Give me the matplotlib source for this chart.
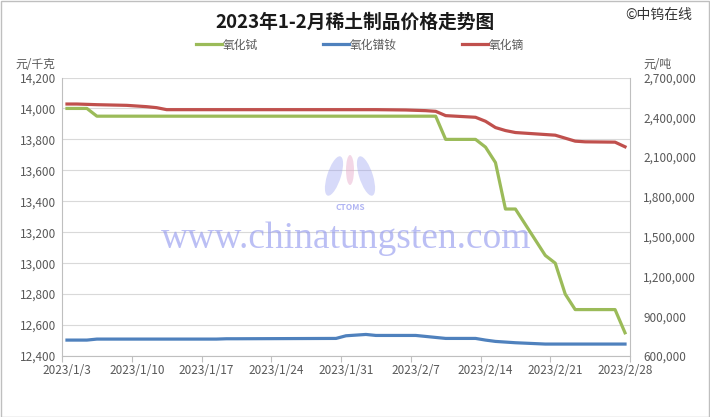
import matplotlib
matplotlib.use('Agg')
import matplotlib.pyplot as plt
import matplotlib.dates as mdates
from matplotlib.ticker import FixedLocator, FuncFormatter
from matplotlib.patches import Rectangle, Ellipse
import pandas as pd

plt.rcParams['font.family'] = ['Noto Sans CJK SC', 'DejaVu Sans']

# ---------------- data ----------------
dates = ['2023-01-03', '2023-01-04', '2023-01-05', '2023-01-06', '2023-01-09', '2023-01-10',
         '2023-01-11', '2023-01-12', '2023-01-13', '2023-01-16', '2023-01-17', '2023-01-18',
         '2023-01-19', '2023-01-20', '2023-01-30', '2023-01-31', '2023-02-01', '2023-02-02',
         '2023-02-03', '2023-02-06', '2023-02-07', '2023-02-08', '2023-02-09', '2023-02-10',
         '2023-02-13', '2023-02-14', '2023-02-15', '2023-02-16', '2023-02-17', '2023-02-20',
         '2023-02-21', '2023-02-22', '2023-02-23', '2023-02-24', '2023-02-27', '2023-02-28']

# 氧化铽 (元/千克, left axis)
terbium = [14000, 14000, 14000, 13950, 13950, 13950,
           13950, 13950, 13950, 13950, 13950, 13950,
           13950, 13950, 13950, 13950, 13950, 13950,
           13950, 13950, 13950, 13950, 13950, 13800,
           13800, 13750, 13650, 13350, 13350, 13050,
           13000, 12800, 12700, 12700, 12700, 12550]

# 氧化镨钕 (元/吨, right axis)
prnd = [720000, 720000, 720000, 727500, 727500, 727500,
        727500, 727500, 727500, 727500, 727500, 727500,
        730000, 730000, 732500, 752500, 757500, 762500,
        755000, 755000, 755000, 747500, 740000, 732500,
        732500, 720000, 710000, 705000, 700000, 690000,
        690000, 690000, 690000, 690000, 690000, 690000]

# 氧化镝 (元/吨, right axis)
dysprosium = [2500000, 2500000, 2497500, 2495000, 2490000, 2485000,
              2480000, 2472500, 2457500, 2457500, 2457500, 2457500,
              2457500, 2457500, 2457500, 2457500, 2457500, 2457500,
              2457500, 2455000, 2452500, 2450000, 2445000, 2412500,
              2400000, 2370000, 2322500, 2300000, 2285000, 2270000,
              2265000, 2242500, 2220000, 2215000, 2212500, 2177500]

series_names = ['氧化铽', '氧化镨钕', '氧化镝']
left_ticks = list(range(12400, 14201, 200))
right_ticks = list(range(600000, 2700001, 300000))
label_dates = ['2023-01-03', '2023-01-10', '2023-01-17', '2023-01-24', '2023-01-31',
               '2023-02-07', '2023-02-14', '2023-02-21', '2023-02-28']

# ---------------- figure ----------------
W, H = 710, 417
fig = plt.figure(figsize=(W / 100, H / 100), dpi=100)
fig.patch.set_facecolor('white')
fig.add_artist(Rectangle((0.5 / W, 0.5 / H), 1 - 1.5 / W, 1 - 1.5 / H, transform=fig.transFigure,
                         fill=False, edgecolor='#BFBFBF', lw=1))

ax = fig.add_axes([62 / W, 61 / H, 568 / W, 278.5 / H])
ax2 = ax.twinx()

x = mdates.date2num(pd.to_datetime(dates))
GREEN, BLUE, RED = '#9BBB59', '#4F81BD', '#C0504D'
TXT = '#595959'
GRID = '#D9D9D9'

l1, = ax.plot(x, terbium, color=GREEN, lw=2.3, zorder=3, solid_joinstyle='round')
l2, = ax2.plot(x, prnd, color=BLUE, lw=2.3, zorder=3, solid_joinstyle='round')
l3, = ax2.plot(x, dysprosium, color=RED, lw=2.3, zorder=3, solid_joinstyle='round')

x0 = mdates.date2num(pd.Timestamp('2023-01-03')) - 0.5
x1 = mdates.date2num(pd.Timestamp('2023-02-28')) + 0.5
ax.set_xlim(x0, x1)

ax.set_ylim(12400, 14200)
ax2.set_ylim(600000, 2700000)
ax.yaxis.set_major_locator(FixedLocator(left_ticks))
ax2.yaxis.set_major_locator(FixedLocator(right_ticks))
ax.yaxis.set_major_formatter(FuncFormatter(lambda v, p: f'{v:,.0f}'))
ax2.yaxis.set_major_formatter(FuncFormatter(lambda v, p: f'{v:,.0f}'))

# x ticks: tick marks between days, labels centered on dates
lab_x = mdates.date2num(pd.to_datetime(label_dates))
ax.xaxis.set_major_locator(FixedLocator([v - 0.5 for v in lab_x[:-1]] + [x1]))
ax.xaxis.set_major_formatter(FuncFormatter(lambda v, p: ''))
ax.xaxis.set_minor_locator(FixedLocator(lab_x))
ax.xaxis.set_minor_formatter(FuncFormatter(
    lambda v, p: (lambda d: f'{d.year}/{d.month}/{d.day}')(mdates.num2date(v))))
ax.tick_params(axis='x', which='major', length=4, color='#BFBFBF', direction='out')
ax.tick_params(axis='x', which='minor', length=0, pad=6, labelsize=8.5, labelcolor=TXT)

ax.tick_params(axis='y', length=0, pad=4, labelsize=8.5, labelcolor=TXT)
ax2.tick_params(axis='y', length=0, pad=9.5, labelsize=8.5, labelcolor=TXT)
for lab in ax2.get_yticklabels():
    lab.set_horizontalalignment('left')

ax.yaxis.grid(True, color=GRID, lw=0.8, zorder=0)
ax.set_axisbelow(True)

for s in ['top', 'right']:
    ax.spines[s].set_visible(False)
for s in ['top', 'left', 'bottom']:
    ax2.spines[s].set_visible(False)
ax.spines['left'].set_color('#BFBFBF')
ax.spines['bottom'].set_color('#BFBFBF')
ax2.spines['right'].set_color('#BFBFBF')

# watermark (logo + site name)
WM = '#8f95ee'
def fig_ellipse(cx, cy, w, h, color, alpha, angle=0):
    fig.add_artist(Ellipse((cx / W, 1 - cy / H), w / W, h / H, angle=angle,
                           transform=fig.transFigure, facecolor=color, edgecolor='none',
                           alpha=alpha, zorder=1))
fig_ellipse(334, 176, 14, 40, WM, 0.35, angle=-10)
fig_ellipse(350, 170, 8, 30, '#e6a7c8', 0.45)
fig_ellipse(366, 176, 14, 40, WM, 0.35, angle=10)
ax.text(0.508, 0.535, 'CTOMS', transform=ax.transAxes, ha='center', va='center',
        fontsize=6, style='italic', fontweight='bold', color=WM, alpha=0.7, zorder=1)
ax.text(0.5, 0.42, 'www.chinatungsten.com', transform=ax.transAxes, ha='center', va='center',
        fontsize=27, family=['Liberation Serif', 'DejaVu Serif'], color=WM, alpha=0.6, zorder=1)

# titles and labels
fig.text(355 / W, 1 - 22 / H, '2023年1-2月稀土制品价格走势图', ha='center', va='center',
         fontsize=13.5, fontweight='bold', color='#1a1a1a')
fig.text(692 / W, 1 - 15 / H, '©中钨在线', ha='right', va='center', fontsize=10, color='#333333')
fig.text(15 / W, 1 - 64 / H, '元/千克', ha='left', va='center', fontsize=8.5, color=TXT)
fig.text(643 / W, 1 - 64 / H, '元/吨', ha='left', va='center', fontsize=8.5, color=TXT)

fig.legend([l1, l2, l3], series_names, loc='center', bbox_to_anchor=(360 / W, 1 - 45 / H),
           ncol=3, frameon=False, fontsize=8.5, handlelength=2.2, handletextpad=0.1,
           columnspacing=5.5, labelcolor=TXT)

fig.savefig('out.png', dpi=100, facecolor='white')
